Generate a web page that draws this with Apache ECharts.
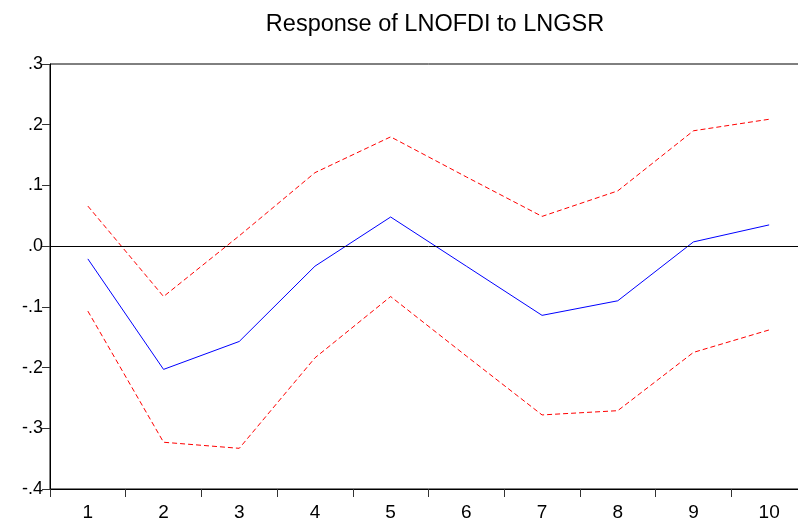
<!DOCTYPE html>
<html>
<head>
<meta charset="utf-8">
<script src="https://cdn.jsdelivr.net/npm/echarts@6/dist/echarts.min.js"></script>
<style>html,body{margin:0;padding:0;background:#fff;overflow:hidden;}#c{width:812px;height:522px;}</style>
</head>
<body>
<div id="c"></div>
<script>
const categories = ['1','2','3','4','5','6','7','8','9','10'];
const response = [-0.021, -0.203, -0.157, -0.033, 0.048, -0.033, -0.114, -0.090, 0.007, 0.035];
const upperBand = [0.066, -0.083, 0.017, 0.121, 0.180, 0.114, 0.049, 0.091, 0.190, 0.209];
const lowerBand = [-0.107, -0.323, -0.333, -0.184, -0.083, -0.181, -0.278, -0.271, -0.175, -0.138];
const titleText = 'Response of LNOFDI to LNGSR';

const fmt = v => { const r = Math.round(v * 10) / 10; return r.toFixed(1).replace('0.', '.'); };
const chart = echarts.init(document.getElementById('c'), null, {renderer: 'canvas'});
const dashStyle = {color: '#ff0000', width: 1, type: [5, 3]};
chart.setOption({
  animation: false,
  backgroundColor: '#ffffff',
  title: {
    text: titleText, left: 430, top: 8, textAlign: 'center',
    textStyle: {fontFamily: 'Liberation Sans', fontSize: 23.5, fontWeight: 'normal', color: '#000'}
  },
  grid: {left: 50, top: 64, width: 757, height: 425, show: true, borderColor: '#000', borderWidth: 1, backgroundColor: 'transparent'},
  xAxis: {
    type: 'category', data: categories, boundaryGap: true,
    axisLine: {onZero: false, lineStyle: {color: '#000', width: 1}},
    axisTick: {show: true, length: 8, inside: false, alignWithLabel: false, lineStyle: {color: '#333'}},
    axisLabel: {fontFamily: 'Liberation Sans', fontSize: 19, color: '#000', margin: 14},
    splitLine: {show: false}
  },
  yAxis: {
    type: 'value', min: -0.4, max: 0.3, interval: 0.1,
    axisLine: {show: true, onZero: false, lineStyle: {color: '#000', width: 1}},
    axisTick: {show: true, length: 8, lineStyle: {color: '#333'}},
    axisLabel: {fontFamily: 'Liberation Sans', fontSize: 18, color: '#000', margin: 7, formatter: fmt},
    splitLine: {show: false}
  },
  series: [
    {type: 'line', data: response, symbol: 'none', lineStyle: {color: '#0000ff', width: 1}, z: 3,
     markLine: {silent: true, symbol: 'none', label: {show: false}, lineStyle: {color: '#000', width: 1, type: 'solid'}, data: [{yAxis: 0}]}},
    {type: 'line', data: upperBand, symbol: 'none', lineStyle: dashStyle, z: 2},
    {type: 'line', data: lowerBand, symbol: 'none', lineStyle: dashStyle, z: 2}
  ]
});
</script>
</body>
</html>
